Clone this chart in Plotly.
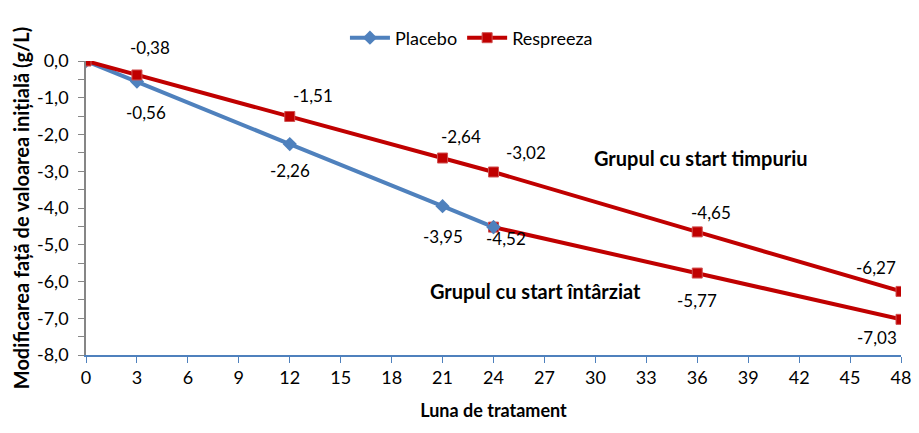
import plotly.graph_objects as go

# Data
placebo_x = [0, 3, 12, 21, 24]
placebo_y = [0, -0.56, -2.26, -3.95, -4.52]
early_x = [0, 3, 12, 21, 24, 36, 48]
early_y = [0, -0.38, -1.51, -2.64, -3.02, -4.65, -6.27]
late_x = [24, 36, 48]
late_y = [-4.52, -5.77, -7.03]

x_ticks = list(range(0, 49, 3))
y_ticks = [0, -1, -2, -3, -4, -5, -6, -7, -8]
y_ticktext = ["0,0", "-1,0", "-2,0", "-3,0", "-4,0", "-5,0", "-6,0", "-7,0", "-8,0"]

# label points (x, y, x-offset px, y-offset px)
label_x = [3, 3, 12, 12, 21, 21, 24, 24, 36, 36, 48, 48]
label_y = [-0.38, -0.56, -1.51, -2.26, -2.64, -3.95, -3.02, -4.52, -4.65, -5.77, -6.27, -7.03]
label_dx = [13, 9, 23, 0, 18, 0, 32, 12, 14, 0, -25, -24]
label_dy = [27, -31, 21, -26, 22, -30, 19, -11, 19, -27, 24, -18]

BLUE = "#4F81BD"
RED = "#C00000"
FONT = "Lato"

fig = go.Figure()
fig.add_trace(go.Scatter(x=placebo_x, y=placebo_y, mode="lines+markers", name="Placebo",
                         line=dict(color=BLUE, width=4),
                         marker=dict(symbol="diamond", size=11, color=BLUE)))
fig.add_trace(go.Scatter(x=early_x, y=early_y, mode="lines+markers", name="Respreeza",
                         line=dict(color=RED, width=4),
                         marker=dict(symbol="square", size=10, color=RED,
                                     line=dict(color="#D05050", width=1))))
fig.add_trace(go.Scatter(x=late_x, y=late_y, mode="lines+markers", name="Respreeza",
                         showlegend=False,
                         line=dict(color=RED, width=4),
                         marker=dict(symbol="square", size=10, color=RED,
                                     line=dict(color="#D05050", width=1))))
# re-draw blue diamond at 24 over red line
fig.add_trace(go.Scatter(x=placebo_x[-1:], y=placebo_y[-1:], mode="markers", showlegend=False,
                         marker=dict(symbol="diamond", size=11, color=BLUE), hoverinfo="skip"))

annotations = []
for x, y, dx, dy in zip(label_x, label_y, label_dx, label_dy):
    annotations.append(dict(x=x, y=y, xref="x", yref="y", text=f"{y:.2f}".replace(".", ","),
                            showarrow=False, xshift=dx, yshift=dy,
                            font=dict(family=FONT, size=17, color="#000000")))
annotations.append(dict(x=36, y=-2.64, xref="x", yref="y", text="<b>Grupul cu start timpuriu</b>",
                        showarrow=False, xshift=4, yshift=0,
                        font=dict(family=FONT, size=20, color="#000000")))
annotations.append(dict(x=26.5, y=-6.27, xref="x", yref="y", text="<b>Grupul cu start întârziat</b>",
                        showarrow=False, yshift=0,
                        font=dict(family=FONT, size=20, color="#000000")))

fig.update_layout(
    width=919, height=433,
    margin=dict(l=86, r=18, t=61, b=78, autoexpand=False),
    paper_bgcolor="white", plot_bgcolor="white",
    font=dict(family=FONT, size=17, color="#000000"),
    showlegend=True,
    legend=dict(orientation="h", x=0.513, xref="container", xanchor="center",
                y=1 - 38 / 433, yref="container", yanchor="middle",
                font=dict(family=FONT, size=18), itemwidth=40, bgcolor="rgba(0,0,0,0)"),
    annotations=annotations,
)
fig.update_xaxes(range=[0, 48], tickvals=x_ticks, ticktext=[str(v) for v in x_ticks],
                 showgrid=False, zeroline=False, showline=True, linecolor=BLUE, linewidth=1.5,
                 ticks="outside", tickcolor=BLUE, ticklen=6,
                 title=dict(text="<b>Luna de tratament</b>", font=dict(family=FONT, size=18), standoff=17),
                 tickfont=dict(family=FONT, size=18))
fig.update_yaxes(range=[-8, 0], tickvals=y_ticks, ticktext=y_ticktext,
                 showgrid=False, zeroline=False, showline=True, linecolor="#868686", linewidth=1.5,
                 ticks="outside", tickcolor="#868686", ticklen=6, ticklabelstandoff=6,
                 minor=dict(dtick=0.5, tick0=0, ticks="outside", ticklen=6, tickcolor="#868686"),
                 title=dict(text="<b>Modificarea față de valoarea inițială (g/L)</b>",
                            font=dict(family=FONT, size=20), standoff=2),
                 tickfont=dict(family=FONT, size=18))
fig.write_html("out.html")
